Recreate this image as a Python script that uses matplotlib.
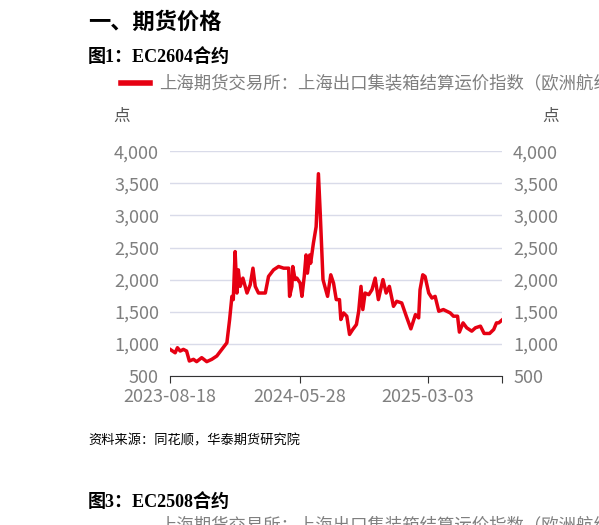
import matplotlib
matplotlib.use("Agg")
import matplotlib.pyplot as plt
import numpy as np
import datetime as dt

plt.rcParams['font.family'] = ['Noto Sans CJK SC', 'DejaVu Sans']

start = dt.date(2023, 8, 18)
day_offsets = [0, 11, 16, 22, 29, 36, 42, 51, 58, 69, 80, 91, 102, 113, 124, 130, 135, 138,
               142, 146, 149, 153, 159, 168, 175, 181, 186, 193, 208, 215, 226, 237, 248, 259,
               261, 266, 268, 273, 277, 284, 288, 293, 297, 300, 305, 307, 313, 319, 324, 328,
               334, 339, 344, 351, 357, 363, 370, 373, 379, 386, 392, 399, 407, 412, 417, 421,
               426, 434, 441, 448, 455, 465, 472, 479, 488, 495, 506, 516, 526, 536, 543, 546,
               552, 557, 565, 572, 579, 587, 597, 612, 619, 628, 632, 640, 648, 659, 667, 678,
               686, 698, 707, 713, 718, 725]
values = [913, 860, 939, 887, 913, 887, 732, 758, 722, 784, 722, 758, 810, 913, 1016, 1378, 1739, 1688,
          2436, 1791, 2152, 1894, 2023, 1791, 1920, 2178, 1894, 1791, 1791, 2049, 2152, 2204, 2178, 2178,
          1739, 1894, 2204, 2000, 2023, 1946, 1739, 2049, 2384, 2100, 2384, 2255, 2565, 2823, 3649, 3030,
          2000, 1868, 1739, 2075, 1946, 1688, 1688, 1378, 1481, 1430, 1146, 1223, 1300, 1507, 1894, 1533,
          1791, 1765, 1842, 2023, 1688, 2000, 1791, 1894, 1584, 1662, 1636, 1430, 1233, 1455, 1404, 1842,
          2075, 2049, 1791, 1713, 1739, 1507, 1533, 1481, 1430, 1430, 1182, 1326, 1249, 1197, 1249, 1275,
          1161, 1161, 1223, 1326, 1326, 1370]
tick_labels = ['2023-08-18', '2024-05-28', '2025-03-03']

dates = [start + dt.timedelta(days=d) for d in day_offsets]
gray = '#7f7f7f'
red = '#e60012'

fig = plt.figure(figsize=(5.99, 5.25), dpi=100)
fig.text(0.147, 0.957, '一、期货价格', fontsize=16, fontweight='bold', va='center')
fig.text(0.147, 0.891, '图1：EC2604合约', fontsize=13, fontweight='bold', va='center',
         family=['Liberation Serif', 'Noto Sans CJK SC'])
fig.add_artist(plt.Line2D([0.202, 0.25], [0.842, 0.842], color=red, lw=4))
fig.text(0.265, 0.842, '上海期货交易所：上海出口集装箱结算运价指数（欧洲航线）', fontsize=12.5,
         color=gray, va='center')
fig.text(0.19, 0.778, '点', fontsize=12, color='#555555', va='center')
fig.text(0.905, 0.778, '点', fontsize=12, color='#555555', va='center')
fig.text(0.147, 0.16, '资料来源：同花顺，华泰期货研究院', fontsize=9.5, style='italic', va='center')
fig.text(0.147, 0.044, '图3：EC2508合约', fontsize=13, fontweight='bold', va='center',
         family=['Liberation Serif', 'Noto Sans CJK SC'])
fig.text(0.265, 0.0, '上海期货交易所：上海出口集装箱结算运价指数（欧洲航线）', fontsize=12.5,
         color=gray, va='center')

ax = fig.add_axes([0.284, 0.284, 0.554, 0.428])
ax.plot(dates, values, color=red, lw=2.5)
ax.set_ylim(500, 4000)
ax.set_yticks(np.arange(500, 4001, 500))
ax.set_xlim(dates[0], dates[-1])
ticks = [dt.date.fromisoformat(t) for t in tick_labels]
ax.set_xticks(ticks + [dates[-1]])
ax.set_xticklabels(tick_labels + [''])
ax.grid(axis='y', color='#d9dbe9', lw=1)
ax.set_axisbelow(True)
for s in ['top', 'left', 'right']:
    ax.spines[s].set_visible(False)
ax.spines['bottom'].set_color('#333333')
ax.tick_params(axis='x', colors='#333333', labelcolor=gray, labelsize=13, length=5)
ax.tick_params(axis='y', length=0, labelcolor=gray, labelsize=13, labelright=True, pad=8)
ax.yaxis.set_major_formatter(matplotlib.ticker.FuncFormatter(lambda v, p: f'{int(v):,}'))

fig.savefig('out.png', dpi=100)
